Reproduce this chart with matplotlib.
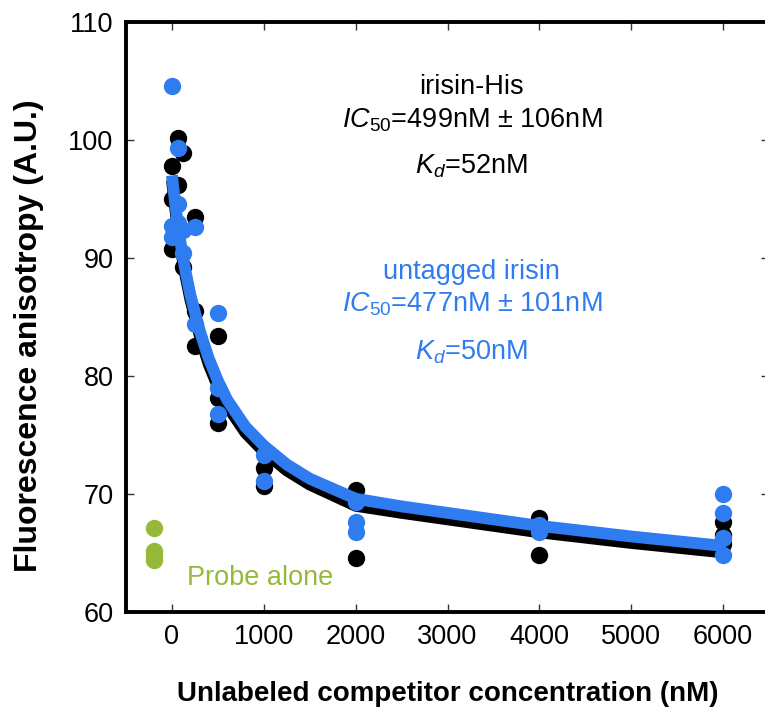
import matplotlib
matplotlib.use("Agg")
import matplotlib.pyplot as plt

plt.rcParams['font.family'] = ['Liberation Sans', 'DejaVu Sans']
plt.rcParams['mathtext.fontset'] = 'custom'
plt.rcParams['mathtext.rm'] = 'Liberation Sans'
plt.rcParams['mathtext.it'] = 'Liberation Sans:italic'

BLACK = '#000000'
BLUE = '#2f7cf0'
GREEN = '#97b93a'

# irisin-His data points
his_x = [0, 0, 0, 62.5, 62.5, 125, 125, 250, 250, 250,
         500, 500, 500, 1000, 1000, 2000, 2000, 4000, 4000, 6000, 6000, 6000]
his_y = [97.8, 95.0, 90.8, 100.2, 96.2, 98.9, 89.2, 93.5, 85.5, 82.5,
         83.4, 78.1, 76.0, 72.2, 70.7, 70.3, 64.6, 68.0, 64.8, 67.6, 66.5, 65.8]

# untagged irisin data points
unt_x = [0, 0, 0, 62.5, 62.5, 62.5, 125, 125, 250, 250,
         500, 500, 500, 1000, 1000, 2000, 2000, 2000, 4000, 4000, 6000, 6000, 6000, 6000]
unt_y = [104.6, 92.7, 91.8, 99.3, 94.6, 93.0, 90.4, 92.4, 92.6, 84.4,
         85.3, 79.0, 76.8, 73.3, 71.1, 69.3, 67.6, 66.8, 67.35, 66.8, 70.0, 68.4, 66.3, 64.8]

# probe alone
probe_x = [-200, -200, -200, -200]
probe_y = [67.1, 65.2, 64.8, 64.4]

# fitted curves
fit_x = [0, 25, 50, 100, 150, 200, 300, 400, 500, 600, 800, 1000, 1250, 1500,
         2000, 2500, 3000, 3500, 4000, 5000, 6000]
his_fit = [96.6, 94.9, 93.3, 90.6, 88.4, 86.5, 83.5, 81.0, 79.1, 77.5, 75.2,
           73.6, 72.0, 70.8, 69.0, 68.4, 67.85, 67.3, 66.75, 65.85, 65.05]
unt_fit = [97.0, 95.3, 93.7, 91.0, 88.8, 86.9, 83.9, 81.5, 79.6, 78.0, 75.7,
           74.1, 72.5, 71.3, 69.6, 68.95, 68.4, 67.85, 67.3, 66.4, 65.6]

x_ticks = [0, 1000, 2000, 3000, 4000, 5000, 6000]
y_ticks = [60, 70, 80, 90, 100, 110]

fig = plt.figure(figsize=(7.65, 7.11), dpi=100)
ax = fig.add_axes([126/765, 1 - 612/711, 643/765, 590/711])

ax.plot(fit_x, his_fit, color=BLACK, lw=8.5, solid_capstyle='butt', zorder=2)
ax.plot(his_x, his_y, 'o', color=BLACK, ms=12.5, mec='none', zorder=3)
ax.plot(fit_x, unt_fit, color=BLUE, lw=8.5, solid_capstyle='butt', zorder=4)
ax.plot(unt_x, unt_y, 'o', color=BLUE, ms=12.5, mec='none', zorder=5)
ax.plot(probe_x, probe_y, 'o', color=GREEN, ms=12.5, mec='none', zorder=5)

ax.set_xlim(-500, 6500)
ax.set_ylim(60, 110)
ax.set_xticks(x_ticks)
ax.set_yticks(y_ticks)
ax.tick_params(direction='in', length=6, width=1, top=True, right=True,
               labelsize=19.5, pad=9, color='#333333')
for s in ax.spines.values():
    s.set_linewidth(2.8)
    s.set_color(BLACK)

ax.set_xlabel('Unlabeled competitor concentration (nM)', fontsize=20,
              fontweight='bold', labelpad=22)
ax.set_ylabel('Fluorescence anisotropy (A.U.)', fontsize=23,
              fontweight='bold')
ax.yaxis.set_label_coords(-0.128, 0.468)

fs = 19.5
ax.text(0.538, 0.89, 'irisin-His', color=BLACK, fontsize=fs, ha='center', va='center',
        transform=ax.transAxes)
ax.text(0.538, 0.834, r'$\mathit{IC}_{\mathit{50}}$=499nM ± 106nM', color=BLACK,
        fontsize=fs, ha='center', va='center', transform=ax.transAxes)
ax.text(0.538, 0.756, r'$\mathit{K}_{\mathit{d}}$=52nM', color=BLACK,
        fontsize=fs, ha='center', va='center', transform=ax.transAxes)

ax.text(0.538, 0.576, 'untagged irisin', color=BLUE, fontsize=fs, ha='center', va='center',
        transform=ax.transAxes)
ax.text(0.538, 0.522, r'$\mathit{IC}_{\mathit{50}}$=477nM ± 101nM', color=BLUE,
        fontsize=fs, ha='center', va='center', transform=ax.transAxes)
ax.text(0.538, 0.440, r'$\mathit{K}_{\mathit{d}}$=50nM', color=BLUE,
        fontsize=fs, ha='center', va='center', transform=ax.transAxes)

ax.text(0.208, 0.058, 'Probe alone', color=GREEN, fontsize=19.5, ha='center', va='center',
        transform=ax.transAxes)

fig.savefig('out.png', dpi=100)
